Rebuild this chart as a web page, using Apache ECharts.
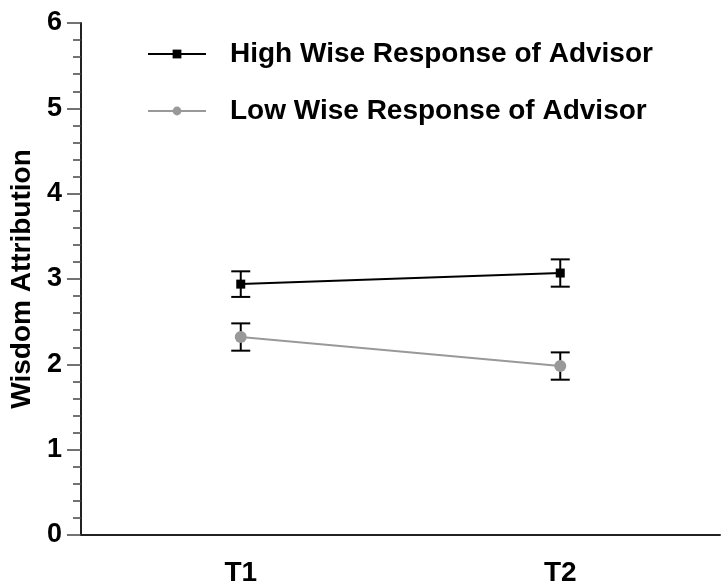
<!DOCTYPE html>
<html>
<head>
<meta charset="utf-8">
<script src="https://cdn.jsdelivr.net/npm/echarts@6/dist/echarts.min.js"></script>
<style>
  html, body { margin: 0; padding: 0; background: #fff; }
  #chart { width: 721px; height: 586px; }
</style>
</head>
<body>
<div id="chart"></div>
<script>
// Time points and group means with their error margins
const timePoints = ['T1', 'T2'];
const highWiseMeans = [2.94, 3.07];
const highWiseErrors = [0.15, 0.16];
const lowWiseMeans = [2.32, 1.98];
const lowWiseErrors = [0.16, 0.16];
const seriesNames = ['High Wise Response of Advisor', 'Low Wise Response of Advisor'];
const yAxisTitle = 'Wisdom Attribution';

const FONT = '"Liberation Sans", Arial, Helvetica, sans-serif';

// Build [categoryIndex, low, high] rows for the error bars
function errorRows(means, errs) {
  return means.map((m, i) => [i, m - errs[i], m + errs[i]]);
}

function renderErrorBar(params, api) {
  const x = api.value(0);
  const lo = api.coord([x, api.value(1)]);
  const hi = api.coord([x, api.value(2)]);
  const half = 9.5;
  const style = { stroke: '#000', lineWidth: 2 };
  return {
    type: 'group',
    children: [
      { type: 'line', shape: { x1: hi[0], y1: hi[1], x2: lo[0], y2: lo[1] }, style },
      { type: 'line', shape: { x1: hi[0] - half, y1: hi[1], x2: hi[0] + half, y2: hi[1] }, style },
      { type: 'line', shape: { x1: lo[0] - half, y1: lo[1], x2: lo[0] + half, y2: lo[1] }, style }
    ]
  };
}

const chart = echarts.init(document.getElementById('chart'), null, { renderer: 'canvas' });

chart.setOption({
  animation: false,
  backgroundColor: '#fff',
  grid: { left: 81, right: 1, top: 23, bottom: 51, containLabel: false, outerBoundsMode: 'none' },
  legend: {
    orient: 'vertical',
    left: 147,
    top: 40,
    padding: 0,
    itemWidth: 58,
    itemHeight: 11,
    itemGap: 29,
    data: seriesNames,
    textStyle: {
      fontFamily: FONT,
      fontWeight: 'bold',
      fontSize: 28,
      color: '#000',
      lineHeight: 28,
      padding: [0, 0, 0, 19]
    }
  },
  xAxis: {
    type: 'category',
    data: timePoints,
    boundaryGap: true,
    axisLine: { lineStyle: { color: '#222', width: 2 } },
    axisTick: { length: 14, lineStyle: { color: '#444', width: 1.5 } },
    axisLabel: {
      margin: 24,
      fontFamily: FONT,
      fontWeight: 'bold',
      fontSize: 28,
      color: '#000'
    },
    splitLine: { show: false }
  },
  yAxis: {
    type: 'value',
    min: 0,
    max: 6,
    interval: 1,
    name: yAxisTitle,
    nameLocation: 'middle',
    nameRotate: 90,
    nameGap: 45,
    nameTextStyle: {
      fontFamily: FONT,
      fontWeight: 'bold',
      fontSize: 28,
      color: '#000'
    },
    axisLine: { show: true, lineStyle: { color: '#222', width: 2 } },
    axisTick: { show: true, length: 14, lineStyle: { color: '#444', width: 1.5 } },
    minorTick: { show: true, splitNumber: 5, length: 8, lineStyle: { color: '#444', width: 1.5 } },
    axisLabel: {
      margin: 19,
      fontFamily: FONT,
      fontWeight: 'bold',
      fontSize: 27,
      color: '#000'
    },
    splitLine: { show: false },
    minorSplitLine: { show: false }
  },
  series: [
    {
      type: 'custom',
      name: 'high-err',
      renderItem: renderErrorBar,
      data: errorRows(highWiseMeans, highWiseErrors),
      z: 1,
      silent: true
    },
    {
      type: 'custom',
      name: 'low-err',
      renderItem: renderErrorBar,
      data: errorRows(lowWiseMeans, lowWiseErrors),
      z: 1,
      silent: true
    },
    {
      type: 'line',
      name: seriesNames[0],
      data: highWiseMeans,
      symbol: 'rect',
      symbolSize: 9,
      lineStyle: { color: '#000', width: 2 },
      itemStyle: { color: '#000' },
      z: 3
    },
    {
      type: 'line',
      name: seriesNames[1],
      data: lowWiseMeans,
      symbol: 'circle',
      symbolSize: 12,
      lineStyle: { color: '#999', width: 2 },
      itemStyle: { color: '#999' },
      z: 2
    }
  ]
});
</script>
</body>
</html>
